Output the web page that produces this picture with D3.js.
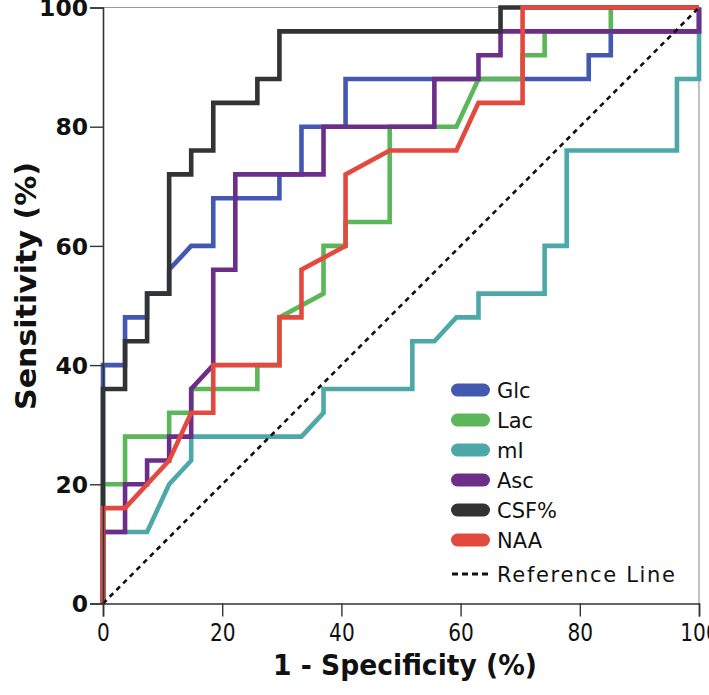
<!DOCTYPE html>
<html><head><meta charset="utf-8">
<script src="https://cdn.jsdelivr.net/npm/d3@7"></script>
<style>body{margin:0;background:#fff;overflow:hidden}</style>
</head><body>
<svg id="c" width="709" height="695"></svg>
<script>
// ---- data (1 - specificity %, sensitivity %) ----
const seriesNames = ["Glc","Lac","mI","Asc","CSF%","NAA"];
const seriesColors = ["#4358b0","#5bb75a","#4ea8a8","#6d2e8a","#333333","#e4493f"];
const xTicks = [0,20,40,60,80,100];
const yTicks = [0,20,40,60,80,100];

const glcX = [0,0,3.7,3.7,7.4,7.4,11.1,11.1,14.8,18.5,18.5,29.6,29.6,33.3,33.3,40.7,40.7,81.5,81.5,85.2,85.2,100,100];
const glcY = [0,40,40,48,48,52,52,56,60,60,68,68,72,72,80,80,88,88,92,92,96,96,100];
const lacX = [0,0,3.7,3.7,11.1,11.1,14.8,14.8,25.9,25.9,29.6,29.6,37.0,37.0,40.7,40.7,48.1,48.1,59.3,63.0,70.4,70.4,74.1,74.1,85.2,85.2,100];
const lacY = [0,20,20,28,28,32,32,36,36,40,40,48,52,60,60,64,64,80,80,88,88,92,92,96,96,100,100];
const miX = [0,0,7.4,11.1,14.8,14.8,33.3,37.0,37.0,51.9,51.9,55.6,59.3,63.0,63.0,74.1,74.1,77.8,77.8,96.3,96.3,100,100];
const miY = [0,12,12,20,24,28,28,32,36,36,44,44,48,48,52,52,60,60,76,76,88,88,100];
const ascX = [0,0,3.7,3.7,7.4,7.4,11.1,11.1,14.8,14.8,18.5,18.5,22.2,22.2,37.0,37.0,55.6,55.6,63.0,63.0,66.7,66.7,100,100];
const ascY = [0,12,12,20,20,24,24,28,28,36,40,56,56,72,72,80,80,88,88,92,92,96,96,100];
const csfX = [0,0,3.7,3.7,7.4,7.4,11.1,11.1,14.8,14.8,18.5,18.5,25.9,25.9,29.6,29.6,66.7,66.7,100];
const csfY = [0,36,36,44,44,52,52,72,72,76,76,84,84,88,88,96,96,100,100];
const naaX = [0,0,3.7,11.1,14.8,18.5,18.5,29.6,29.6,33.3,33.3,40.7,40.7,48.1,59.3,63.0,70.4,70.4,100];
const naaY = [0,16,16,24,32,32,40,40,48,48,56,60,72,76,76,84,84,100,100];
const refX = [0,100];
const refY = [0,100];

const seriesX = [glcX,lacX,miX,ascX,csfX,naaX];
const seriesY = [glcY,lacY,miY,ascY,csfY,naaY];

// ---- layout ----
const svg = d3.select("#c");
const x = d3.scaleLinear().domain([0,100]).range([103,699]);
const y = d3.scaleLinear().domain([0,100]).range([603.5,7.5]);

// frame (top/right)
svg.append("path")
  .attr("d", `M${x(0)},${y(100)}H${x(100)}V${y(0)}`)
  .attr("fill","none").attr("stroke","#9a9a9a").attr("stroke-width",1.2);

const line = d3.line().x(d=>x(d[0])).y(d=>y(d[1]));

seriesNames.forEach((n,i)=>{
  const pts = seriesX[i].map((v,j)=>[v, seriesY[i][j]]);
  svg.append("path").datum(pts).attr("d",line)
    .attr("fill","none").attr("stroke",seriesColors[i])
    .attr("stroke-width",4.6).attr("stroke-linejoin","miter");
});

svg.append("path").datum(refX.map((v,j)=>[v,refY[j]])).attr("d",line)
  .attr("fill","none").attr("stroke","#111").attr("stroke-width",2.6)
  .attr("stroke-dasharray","5,4.5");

// axes
const xAxis = svg.append("g").attr("transform",`translate(0,${y(0)})`)
  .call(d3.axisBottom(x).tickValues(xTicks).tickSize(13).tickPadding(7).tickFormat(d3.format("d")));
const yAxis = svg.append("g").attr("transform",`translate(${x(0)},0)`)
  .call(d3.axisLeft(y).tickValues(yTicks).tickSize(13).tickPadding(2).tickFormat(d3.format("d")));
[xAxis,yAxis].forEach(a=>{
  a.select(".domain").attr("stroke","#333").attr("stroke-width",1.6);
  a.selectAll(".tick line").attr("stroke","#333").attr("stroke-width",1.4);
});
xAxis.selectAll(".tick text").attr("font-family","'DejaVu Sans',sans-serif")
  .attr("font-size",25).attr("fill","#111")
  .attr("textLength",d=>String(d).length*12.8).attr("lengthAdjust","spacingAndGlyphs");
yAxis.selectAll(".tick text").attr("font-family","'DejaVu Sans',sans-serif")
  .attr("font-weight","bold").attr("font-size",22.5).attr("fill","#111").attr("dy","0.36em")
  .attr("textLength",d=>String(d).length*16.3).attr("lengthAdjust","spacingAndGlyphs");

// axis titles
svg.append("text").attr("x",405).attr("y",675).attr("text-anchor","middle")
  .attr("font-family","'DejaVu Sans',sans-serif")
  .attr("font-weight","bold").attr("font-size",28).attr("fill","#111")
  .attr("textLength",264).attr("lengthAdjust","spacingAndGlyphs")
  .text("1 - Specificity (%)");
svg.append("text").attr("transform","translate(36,286) rotate(-90)").attr("text-anchor","middle")
  .attr("font-family","'DejaVu Sans',sans-serif")
  .attr("font-weight","bold").attr("font-size",28).attr("fill","#111")
  .attr("textLength",248).attr("lengthAdjust","spacingAndGlyphs")
  .text("Sensitivity (%)");

// legend
const lg = svg.append("g");
seriesNames.forEach((n,i)=>{
  const cy = 390 + i*30;
  lg.append("rect").attr("x",451).attr("y",cy-6.5).attr("width",39).attr("height",13)
    .attr("rx",6.5).attr("fill",seriesColors[i]);
  lg.append("text").attr("x",497).attr("y",cy+8).attr("font-family","'DejaVu Sans',sans-serif")
    .attr("font-size",21).attr("fill","#111").text(n);
});
const rcy = 574;
lg.append("line").attr("x1",452).attr("x2",490).attr("y1",rcy).attr("y2",rcy)
  .attr("stroke","#111").attr("stroke-width",3).attr("stroke-dasharray","6,4");
lg.append("text").attr("x",497).attr("y",rcy+8).attr("font-family","'DejaVu Sans',sans-serif")
  .attr("font-size",21).attr("fill","#111")
  .attr("textLength",178).attr("lengthAdjust","spacing")
  .text("Reference Line");
</script>
</body></html>
